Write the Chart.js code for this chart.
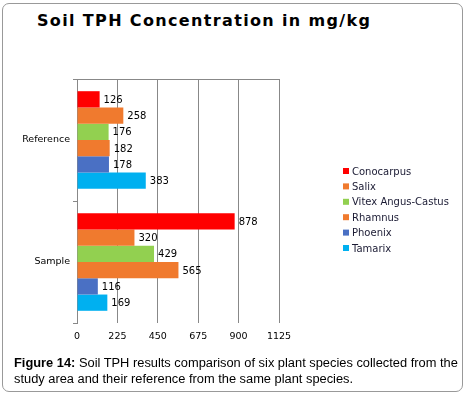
<!DOCTYPE html>
<html>
<head>
<meta charset="utf-8">
<script src="https://cdn.jsdelivr.net/npm/chart.js@4"></script>
<style>
  body { margin: 0; background: #fff; }
  #wrap { position: relative; width: 469px; height: 393px; }
  #frame { position: absolute; left: 2px; top: 3px; width: 461px; height: 389px; box-sizing: border-box; border: 1px solid #999; border-radius: 7px; }
  #chart { position: absolute; left: 0; top: 0; }
  #title { position: absolute; left: 37px; top: 11px; font-family: 'DejaVu Sans', Verdana, sans-serif; font-weight: bold; font-size: 16px; line-height: 19px; letter-spacing: 1.35px; color: #000; white-space: nowrap; }
  #caption { position: absolute; left: 14px; top: 355px; font-family: 'Liberation Sans', Arial, sans-serif; font-size: 12.85px; line-height: 16px; color: #000; white-space: nowrap; }
</style>
</head>
<body>
<div id="wrap">
  <div id="frame"></div>
  <div id="title">Soil TPH Concentration in mg/kg</div>
  <canvas id="chart" width="469" height="393"></canvas>
  <div id="caption"><b>Figure 14:</b> Soil TPH results comparison of six plant species collected from the<br>study area and their reference from the same plant species.</div>
</div>
<script>
var categories = ['Reference', 'Sample'];
var conocarpus = [126, 878];
var salix = [258, 320];
var vitex = [176, 429];
var rhamnus = [182, 565];
var phoenix = [178, 116];
var tamarix = [383, 169];
var xTicks = [0, 225, 450, 675, 900, 1125];

var seriesNames = ['Conocarpus', 'Salix', 'Vitex Angus-Castus', 'Rhamnus', 'Phoenix', 'Tamarix'];
var seriesValues = [conocarpus, salix, vitex, rhamnus, phoenix, tamarix];
var seriesColors = ['#ff0000', '#f07a2e', '#92d050', '#f07a2e', '#4a70c4', '#00b0f0'];

var datasets = [];
for (var i = 0; i < seriesNames.length; i++) {
  datasets.push({
    label: seriesNames[i],
    data: seriesValues[i],
    backgroundColor: seriesColors[i],
    borderWidth: 0,
    barPercentage: 1,
    categoryPercentage: 0.8
  });
}

// numbers at the end of each bar
var valueLabels = {
  id: 'valueLabels',
  afterDatasetsDraw: function(chart) {
    var ctx = chart.ctx;
    ctx.save();
    ctx.font = '10px "DejaVu Sans"';
    ctx.fillStyle = '#000';
    ctx.textBaseline = 'middle';
    chart.data.datasets.forEach(function(ds, i) {
      chart.getDatasetMeta(i).data.forEach(function(bar, j) {
        ctx.fillText(ds.data[j], bar.x + 4, bar.y + 1);
      });
    });
    ctx.restore();
  }
};

// legend on the right side, small squares
var sideLegend = {
  id: 'sideLegend',
  afterDraw: function(chart) {
    var ctx = chart.ctx;
    var area = chart.chartArea;
    var x = area.right + 64;
    var y = area.top + 92;
    ctx.save();
    ctx.font = '10px "DejaVu Sans"';
    ctx.textBaseline = 'middle';
    chart.data.datasets.forEach(function(ds, i) {
      var yy = y + i * 15.4;
      ctx.fillStyle = ds.backgroundColor;
      ctx.fillRect(x, yy - 3, 6, 6);
      ctx.fillStyle = '#1a1a33';
      ctx.fillText(ds.label, x + 9, yy + 1);
    });
    ctx.restore();
  }
};

var ctx = document.getElementById('chart');
var tphChart = new Chart(ctx, {
  type: 'bar',
  data: { labels: categories, datasets: datasets },
  options: {
    indexAxis: 'y',
    responsive: false,
    animation: false,
    layout: { padding: { top: 79, left: 0, right: 190, bottom: 0 } },
    plugins: {
      legend: { display: false },
      tooltip: { enabled: false }
    },
    scales: {
      x: {
        min: xTicks[0],
        max: xTicks[xTicks.length - 1],
        ticks: {
          stepSize: xTicks[1] - xTicks[0],
          color: '#000',
          padding: 8,
          font: { family: '"DejaVu Sans"', size: 9.5 },
          callback: function(v) { return String(v); }
        },
        grid: { color: '#888', drawTicks: false },
        border: { display: false },
        afterFit: function(scale) { scale.height = 70; }
      },
      y: {
        ticks: {
          color: '#000',
          padding: 3,
          font: { family: '"DejaVu Sans"', size: 9.5 }
        },
        grid: {
          offset: true,
          drawOnChartArea: true,
          tickLength: 4,
          tickColor: '#888',
          color: function(c) { return c.index === 0 ? '#888' : 'rgba(0,0,0,0)'; }
        },
        border: { color: '#888' },
        afterFit: function(scale) { scale.width = 77; }
      }
    }
  },
  plugins: [valueLabels, sideLegend]
});
</script>
</body>
</html>
